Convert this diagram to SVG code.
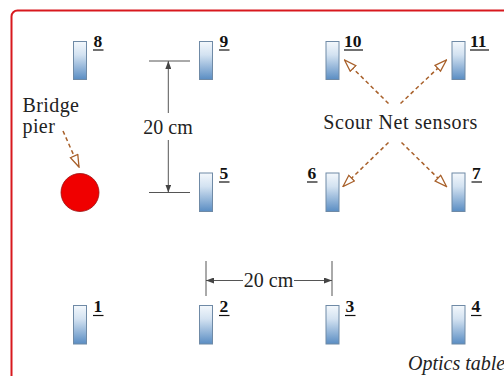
<svg xmlns="http://www.w3.org/2000/svg" width="504" height="376" viewBox="0 0 504 376">
  <defs>
    <linearGradient id="sensorFill" x1="0" y1="0" x2="0" y2="1">
      <stop offset="0" stop-color="#f4f8fc"/>
      <stop offset="0.35" stop-color="#d3e2f1"/>
      <stop offset="1" stop-color="#5a8dc3"/>
    </linearGradient>
    <marker id="openHead" viewBox="0 0 14 10" refX="13" refY="5" markerWidth="14" markerHeight="10" markerUnits="userSpaceOnUse" orient="auto">
      <path d="M1,1 L13,5 L1,9 Z" fill="#fff" stroke="#a8602a" stroke-width="1.3" stroke-linejoin="miter"/>
    </marker>
    <marker id="dimHead" viewBox="0 0 8 6" refX="8" refY="3" markerWidth="8" markerHeight="6" markerUnits="userSpaceOnUse" orient="auto">
      <path d="M0,0 L8,3 L0,6 Z" fill="#444"/>
    </marker>
  </defs>
  <style>
    .sensor { fill: url(#sensorFill); stroke: #6f8aa6; stroke-width: 1; }
    .num { font-family: "Liberation Serif", serif; font-weight: bold; font-size: 17.5px; fill: #111; }
    .ul { stroke: #111; stroke-width: 1.2; }
    .lbl { font-family: "Liberation Serif", serif; font-size: 20px; fill: #222; }
    .dim { stroke: #555; stroke-width: 1; fill: none; }
    .dash { stroke: #a8602a; stroke-width: 1.5; stroke-dasharray: 4 3; fill: none; marker-end: url(#openHead); }
  </style>

  <!-- table outline -->
  <rect x="11.5" y="10.5" width="520" height="400" rx="6" fill="none" stroke="#d8191e" stroke-width="2"/>

  <!-- sensors -->
  <g id="sensor8"><rect class="sensor" x="73.5" y="41.5" width="13" height="38"/><text class="num" x="93.5" y="47">8</text><line class="ul" x1="93" y1="50" x2="103.5" y2="50"/></g>
  <g id="sensor9"><rect class="sensor" x="199.5" y="41.5" width="13" height="38"/><text class="num" x="219.5" y="47">9</text><line class="ul" x1="219" y1="50" x2="229.5" y2="50"/></g>
  <g id="sensor10"><rect class="sensor" x="326" y="41.5" width="13" height="38"/><text class="num" x="344" y="47">10</text><line class="ul" x1="344" y1="50" x2="363" y2="50"/></g>
  <g id="sensor11"><rect class="sensor" x="452" y="41.5" width="13" height="38"/><text class="num" x="470" y="47">11</text><line class="ul" x1="470" y1="50" x2="489" y2="50"/></g>

  <g id="sensor5"><rect class="sensor" x="199.5" y="173" width="13" height="38.5"/><text class="num" x="219.5" y="179">5</text><line class="ul" x1="219" y1="182" x2="229.5" y2="182"/></g>
  <g id="sensor6"><rect class="sensor" x="326" y="173" width="13" height="38.5"/><text class="num" x="307.5" y="179">6</text><line class="ul" x1="307" y1="182" x2="317.5" y2="182"/></g>
  <g id="sensor7"><rect class="sensor" x="452" y="173" width="13" height="38.5"/><text class="num" x="472" y="179">7</text><line class="ul" x1="471.5" y1="182" x2="482" y2="182"/></g>

  <g id="sensor1"><rect class="sensor" x="73.5" y="305.5" width="13" height="38.5"/><text class="num" x="93.5" y="312">1</text><line class="ul" x1="93" y1="315.5" x2="103.5" y2="315.5"/></g>
  <g id="sensor2"><rect class="sensor" x="199.5" y="305.5" width="13" height="38.5"/><text class="num" x="219.5" y="312">2</text><line class="ul" x1="219" y1="315.5" x2="229.5" y2="315.5"/></g>
  <g id="sensor3"><rect class="sensor" x="326" y="305.5" width="13" height="38.5"/><text class="num" x="345.5" y="312">3</text><line class="ul" x1="345" y1="315.5" x2="355.5" y2="315.5"/></g>
  <g id="sensor4"><rect class="sensor" x="452" y="305.5" width="13" height="38.5"/><text class="num" x="471.5" y="312">4</text><line class="ul" x1="471" y1="315.5" x2="481.5" y2="315.5"/></g>

  <!-- bridge pier -->
  <g id="pier">
    <circle cx="80" cy="192.5" r="19" fill="#f00000" stroke="#9a1010" stroke-width="0.8"/>
    <text class="lbl" x="22.5" y="111.5" letter-spacing="0.4">Bridge</text>
    <text class="lbl" x="22.5" y="133" letter-spacing="0.4">pier</text>
  </g>

  <!-- labels -->
  <g id="scourLabel"><text class="lbl" x="400.5" y="128.5" text-anchor="middle" letter-spacing="0.6">Scour Net sensors</text></g>
  <g id="tableLabel"><text class="lbl" x="408" y="370" font-size="19.5" font-style="italic">Optics table</text></g>

  <!-- dimensions -->
  <g id="dimVertical">
    <line class="dim" x1="149" y1="61" x2="190" y2="61"/>
    <line class="dim" x1="149" y1="192.5" x2="190" y2="192.5"/>
    <line class="dim" x1="168.3" y1="113" x2="168.3" y2="61" marker-end="url(#dimHead)"/>
    <line class="dim" x1="168.3" y1="140" x2="168.3" y2="192.5" marker-end="url(#dimHead)"/>
    <text class="lbl" x="168" y="133.5" text-anchor="middle" font-size="19.5">20 cm</text>
  </g>
  <g id="dimHorizontal">
    <line class="dim" x1="206" y1="261" x2="206" y2="296"/>
    <line class="dim" x1="332" y1="261" x2="332" y2="296"/>
    <line class="dim" x1="243" y1="280.5" x2="206" y2="280.5" marker-end="url(#dimHead)"/>
    <line class="dim" x1="294" y1="280.5" x2="332" y2="280.5" marker-end="url(#dimHead)"/>
    <text class="lbl" x="268.5" y="287" text-anchor="middle" font-size="19.5">20 cm</text>
  </g>

  <!-- connectors -->
  <g id="connectors">
    <line class="dash" x1="63" y1="131" x2="79" y2="167"/>
    <line class="dash" x1="388.5" y1="103.5" x2="344.5" y2="60"/>
    <line class="dash" x1="400.5" y1="103.5" x2="446.5" y2="60"/>
    <line class="dash" x1="388.5" y1="142.5" x2="343" y2="186.5"/>
    <line class="dash" x1="401.5" y1="142.5" x2="446.5" y2="186.5"/>
  </g>
</svg>
